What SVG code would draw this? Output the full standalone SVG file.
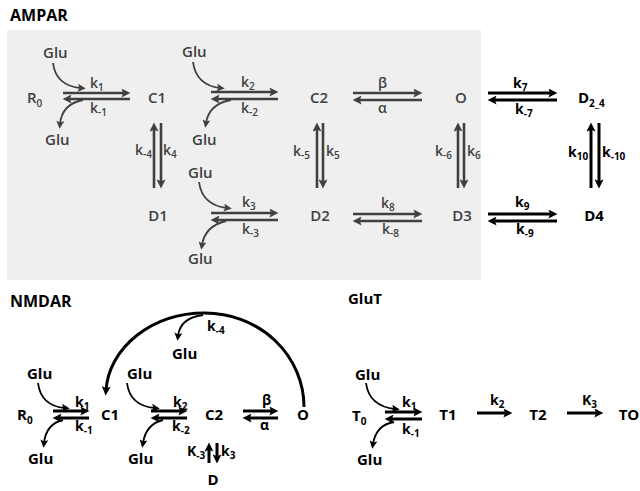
<svg xmlns="http://www.w3.org/2000/svg" width="640" height="491" viewBox="0 0 640 491">
<defs>
<style>
text{font-family:"Open Sans","Noto Sans","DejaVu Sans",sans-serif}
.g{fill:#404040;font-weight:600}
.b{fill:#000;font-weight:700}
.n{font-size:15px}
.t{font-size:16px}
.k{font-size:14px}
.s{font-size:10px}
.lga{stroke:#404040;stroke-width:2.6;fill:none;marker-end:url(#ag)}
.lba{stroke:#000;stroke-width:3;fill:none;marker-end:url(#ab)}
.cga{stroke:#404040;stroke-width:1.8;fill:none;marker-end:url(#sg)}
.cba{stroke:#000;stroke-width:1.8;fill:none;marker-end:url(#sb)}
</style>
<marker id="ag" viewBox="0 0 10 10" refX="4" refY="5" markerWidth="10" markerHeight="9" orient="auto" markerUnits="userSpaceOnUse"><path d="M0,0 L10,5 L0,10 L2,5 z" fill="#404040"/></marker>
<marker id="ab" viewBox="0 0 10 10" refX="4" refY="5" markerWidth="10" markerHeight="9" orient="auto" markerUnits="userSpaceOnUse"><path d="M0,0 L10,5 L0,10 L2,5 z" fill="#000"/></marker>
<marker id="sg" viewBox="0 0 10 10" refX="4" refY="5" markerWidth="9" markerHeight="8" orient="auto" markerUnits="userSpaceOnUse"><path d="M0,0 L10,5 L0,10 L2,5 z" fill="#404040"/></marker>
<marker id="sb" viewBox="0 0 10 10" refX="4" refY="5" markerWidth="9" markerHeight="8" orient="auto" markerUnits="userSpaceOnUse"><path d="M0,0 L10,5 L0,10 L2,5 z" fill="#000"/></marker>
</defs>
<rect x="0" y="0" width="640" height="491" fill="#fff"/>
<rect x="7" y="30" width="474" height="250" fill="#efefef"/>

<!-- titles -->
<text class="b t" x="10" y="21">AMPAR</text>
<text class="b t" x="10" y="307">NMDAR</text>
<text class="b n" x="348" y="304">GluT</text>

<!-- AMPAR nodes -->
<g id="a_R0"><text class="g n" x="27" y="103">R<tspan class="s" dy="4">0</tspan></text></g>
<g id="a_C1"><text class="g n" x="157" y="103" text-anchor="middle">C1</text></g>
<g id="a_C2"><text class="g n" x="319" y="103" text-anchor="middle">C2</text></g>
<g id="a_O"><text class="g n" x="461" y="103" text-anchor="middle">O</text></g>
<g id="a_D24"><text class="b n" x="578" y="103">D<tspan class="s" dy="4">2_4</tspan></text></g>
<g id="a_D1"><text class="g n" x="158" y="221" text-anchor="middle">D1</text></g>
<g id="a_D2"><text class="g n" x="320" y="221" text-anchor="middle">D2</text></g>
<g id="a_D3"><text class="g n" x="462" y="221" text-anchor="middle">D3</text></g>
<g id="a_D4"><text class="b n" x="594" y="221" text-anchor="middle">D4</text></g>
<g id="a_glu"><text class="g n" x="43" y="58">Glu</text>
<text class="g n" x="45" y="145">Glu</text>
<text class="g n" x="182" y="57">Glu</text>
<text class="g n" x="192" y="145">Glu</text>
<text class="g n" x="188" y="178">Glu</text>
<text class="g n" x="188" y="264">Glu</text></g>

<!-- NMDAR nodes -->
<g id="n_R0"><text class="b n" x="17" y="420">R<tspan class="s" dy="4">0</tspan></text></g>
<g id="n_C1"><text class="b n" x="110" y="420" text-anchor="middle">C1</text></g>
<g id="n_C2"><text class="b n" x="214" y="420" text-anchor="middle">C2</text></g>
<g id="n_O"><text class="b n" x="303" y="420" text-anchor="middle">O</text></g>
<g id="n_D"><text class="b n" x="213" y="485" text-anchor="middle">D</text></g>
<g id="n_glu"><text class="b n" x="27" y="379">Glu</text>
<text class="b n" x="28" y="464">Glu</text>
<text class="b n" x="127" y="379">Glu</text>
<text class="b n" x="128" y="464">Glu</text>
<text class="b n" x="172" y="359">Glu</text></g>

<!-- GluT nodes -->
<g id="t_T0"><text class="b n" x="352" y="421">T<tspan class="s" dy="4">0</tspan></text></g>
<g id="t_T1"><text class="b n" x="448" y="420" text-anchor="middle">T1</text></g>
<g id="t_T2"><text class="b n" x="538" y="420" text-anchor="middle">T2</text></g>
<g id="t_TO"><text class="b n" x="629" y="420" text-anchor="middle">TO</text></g>
<g id="t_glu"><text class="b n" x="355" y="380">Glu</text>
<text class="b n" x="357" y="465">Glu</text></g>

<!-- connectors -->
<g id="connectors">
<path class="lga" d="M63,93 H125"/><path class="lga" d="M130,99 H68"/>
<path class="lga" d="M211,92 H273"/><path class="lga" d="M278,99 H216"/>
<path class="lga" d="M353,93 H417"/><path class="lga" d="M422,100 H358"/>
<path class="lba" d="M488,93 H552"/><path class="lba" d="M557,100 H493"/>
<path class="lga" d="M211,213 H273"/><path class="lga" d="M278,220 H216"/>
<path class="lga" d="M353,214 H417"/><path class="lga" d="M422,221 H358"/>
<path class="lba" d="M488,214 H552"/><path class="lba" d="M557,221 H493"/>
<path class="lga" d="M154,188 V128"/><path class="lga" d="M161,123 V183"/>
<path class="lga" d="M317,188 V128"/><path class="lga" d="M323,123 V183"/>
<path class="lga" d="M458,188 V128"/><path class="lga" d="M464,123 V183"/>
<path class="lba" d="M591,188 V128"/><path class="lba" d="M599,123 V183"/>
<path class="cga" d="M53,63 Q56,86 81,88"/>
<path class="cga" d="M83,100 Q62,104 60,124"/>
<path class="cga" d="M193,62 Q196,85 220,88"/>
<path class="cga" d="M231,100 Q209,104 206,123"/>
<path class="cga" d="M199,182 Q202,205 227,208"/>
<path class="cga" d="M226,221 Q205,226 202,245"/>
<path class="lba" d="M53,411 H84"/><path class="lba" d="M89,418 H58"/>
<path class="lba" d="M151,411 H182"/><path class="lba" d="M187,418 H156"/>
<path class="lba" d="M243,411 H273"/><path class="lba" d="M278,418 H248"/>
<path class="lba" d="M209,463 V448"/><path class="lba" d="M217,443 V458"/>
<path class="lba" d="M304,407 A99,94 0 0 0 205,313 A99,82 0 0 0 106,390"/>
<path class="cba" d="M38,383 Q41,406 65,408"/>
<path class="cba" d="M63,420 Q46,424 44,443"/>
<path class="cba" d="M127,383 Q130,406 155,408"/>
<path class="cba" d="M163,420 Q146,424 143,443"/>
<path class="cba" d="M203,315 Q180,318 178,336"/>
<path class="lba" d="M385,412 H417"/><path class="lba" d="M422,419 H390"/>
<path class="lba" d="M477,413 H507"/>
<path class="lba" d="M567,413 H598"/>
<path class="cba" d="M366,383 Q369,406 395,409"/>
<path class="cba" d="M394,422 Q376,425 373,444"/>
</g>

<g id="labels">
<text class="g k" x="90" y="88">k<tspan class="s" dy="3">1</tspan></text>
<text class="g k" x="90" y="113">k<tspan class="s" dy="3">-1</tspan></text>
<text class="g k" x="241" y="87">k<tspan class="s" dy="3">2</tspan></text>
<text class="g k" x="241" y="113">k<tspan class="s" dy="3">-2</tspan></text>
<text class="g k" x="378" y="88">β</text>
<text class="g k" x="378" y="113">α</text>
<text class="b k" x="513" y="88">k<tspan class="s" dy="3">7</tspan></text>
<text class="b k" x="515" y="114">k<tspan class="s" dy="3">-7</tspan></text>
<text class="g k" x="242" y="207">k<tspan class="s" dy="3">3</tspan></text>
<text class="g k" x="242" y="234">k<tspan class="s" dy="3">-3</tspan></text>
<text class="g k" x="381" y="208">k<tspan class="s" dy="3">8</tspan></text>
<text class="g k" x="382" y="234">k<tspan class="s" dy="3">-8</tspan></text>
<text class="b k" x="515" y="207">k<tspan class="s" dy="3">9</tspan></text>
<text class="b k" x="516" y="234">k<tspan class="s" dy="3">-9</tspan></text>
<text class="g k" x="135" y="155">k<tspan class="s" dy="3">-4</tspan></text>
<text class="g k" x="163" y="155">k<tspan class="s" dy="3">4</tspan></text>
<text class="g k" x="293" y="156">k<tspan class="s" dy="3">-5</tspan></text>
<text class="g k" x="326" y="156">k<tspan class="s" dy="3">5</tspan></text>
<text class="g k" x="435" y="156">k<tspan class="s" dy="3">-6</tspan></text>
<text class="g k" x="467" y="156">k<tspan class="s" dy="3">6</tspan></text>
<text class="b k" x="568" y="157">k<tspan class="s" dy="3">10</tspan></text>
<text class="b k" x="602" y="157">k<tspan class="s" dy="3">-10</tspan></text>
<text class="b k" x="75" y="407">k<tspan class="s" dy="3">1</tspan></text>
<text class="b k" x="75" y="431">k<tspan class="s" dy="3">-1</tspan></text>
<text class="b k" x="173" y="407">k<tspan class="s" dy="3">2</tspan></text>
<text class="b k" x="172" y="431">k<tspan class="s" dy="3">-2</tspan></text>
<text class="b k" x="262" y="405">β</text>
<text class="b k" x="260" y="430">α</text>
<text class="b k" x="187" y="456">K<tspan class="s" dy="3">-3</tspan></text>
<text class="b k" x="221" y="456">k<tspan class="s" dy="3">3</tspan></text>
<text class="b k" x="207" y="331">k<tspan class="s" dy="3">-4</tspan></text>
<text class="b k" x="402" y="407">k<tspan class="s" dy="3">1</tspan></text>
<text class="b k" x="402" y="434">k<tspan class="s" dy="3">-1</tspan></text>
<text class="b k" x="490" y="405">k<tspan class="s" dy="3">2</tspan></text>
<text class="b k" x="582" y="405">K<tspan class="s" dy="3">3</tspan></text>
</g>
</svg>
